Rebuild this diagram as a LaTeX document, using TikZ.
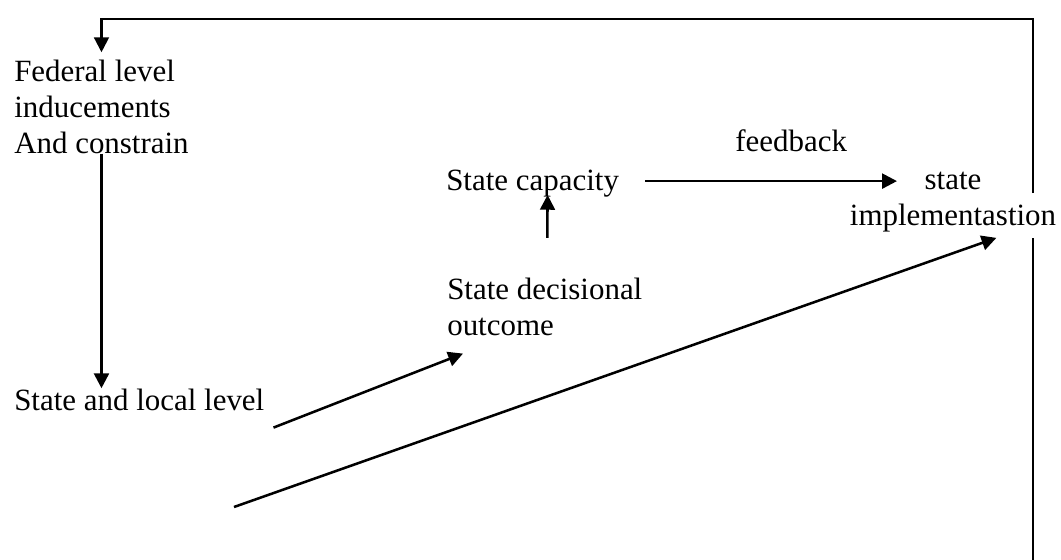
\documentclass[tikz,border=0pt]{standalone}
\usepackage{fontspec}
\setmainfont{Liberation Serif}
\usetikzlibrary{arrows.meta, positioning, calc}

\begin{document}
\begin{tikzpicture}[
    x=0.025cm, y=-0.025cm,
    txt/.style={inner sep=0pt, font=\fontsize{22}{25.6}\selectfont},
    arrow/.style={-{Triangle[length=10.5pt, width=10.5pt]}, line width=1.8pt},
    plain/.style={line width=1.5pt}
]
    \useasboundingbox (0,0) rectangle (1061,560);

    % Levels
    \node[txt, anchor=base west, align=left] (federal) at (14,153) {Federal level\\inducements\\And constrain};
    \node[txt, anchor=base west] (local) at (14,410) {State and local level};

    % State side
    \node[txt, anchor=base west] (capacity) at (446,190) {State capacity};
    \node[txt, anchor=base west, align=left] (decision) at (447,335) {State decisional\\outcome};
    \node[txt, anchor=base, align=center] (implement) at (953,225) {state\\implementastion};

    % Free ends
    \coordinate (source) at (234,507);
    \coordinate (loopstart) at (1033,560);
    \coordinate (gaplow) at (1033,238);
    \coordinate (gaphigh) at (1033,193);

    % Arrows
    \draw[arrow] (federal.south) -- (federal.south |- local.north);
    \draw[arrow] ($(local.south east)+(9,17)$) -- ($(decision.south west)+(16,18)$);
    \draw[arrow] ($(decision.north)+(2.5,-39.5)$) -- ($(capacity.south)+(15,-2)$);
    \draw[arrow] ($(capacity.east)+(26,-2)$) -- ($(capacity.east -| implement.north)+(-56,-2)$)
        node[txt, pos=0.58, above=20pt] (fb) {feedback};
    \draw[arrow] (source) -- ($(implement.south east)+(-60,6)$);

    % Return loop
    \draw[plain] (loopstart) -- (gaplow);
    \draw[arrow, line width=1.5pt, shorten >=5pt] (gaphigh) |- ($(federal.north)+(0,-40)$) -- (federal.north);
\end{tikzpicture}
\end{document}
